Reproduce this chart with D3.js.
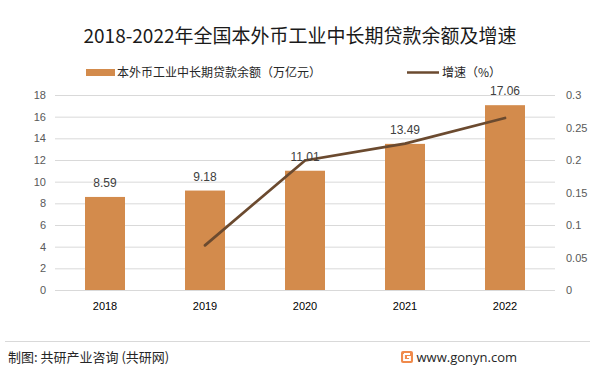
<!DOCTYPE html>
<html><head><meta charset="utf-8">
<script src="https://cdn.jsdelivr.net/npm/d3@7"></script>
<style>body{margin:0;background:#fff}svg{display:block;font-family:"Noto Sans CJK SC",sans-serif}</style>
</head><body>
<svg id="c" width="601" height="375"></svg>
<script>
const years = ["2018","2019","2020","2021","2022"];
const balance = [8.59, 9.18, 11.01, 13.49, 17.06];
const growth = [null, 0.0687, 0.1993, 0.2253, 0.2646];
const leftTicks = [0,2,4,6,8,10,12,14,16,18];
const rightTicks = [0,0.05,0.1,0.15,0.2,0.25,0.3];

const NUMF = "'Liberation Sans',Arial,sans-serif";
const svg = d3.select("#c");
const L = 55, R = 555, T = 95, B = 290;
const x = d3.scaleBand().domain(years).range([L, R]).paddingInner(0.6).paddingOuter(0.3);
const yL = d3.scaleLinear().domain([0,18]).range([B,T]);
const yR = d3.scaleLinear().domain([0,0.3]).range([B,T]);

svg.append("text").attr("x",300).attr("y",43).attr("text-anchor","middle")
  .attr("font-size",19).attr("fill","#1a1a1a").text("2018-2022年全国本外币工业中长期贷款余额及增速");

// grid
svg.append("g").selectAll("line").data(leftTicks).join("line")
  .attr("x1",L).attr("x2",R).attr("y1",d=>yL(d)+0.5).attr("y2",d=>yL(d)+0.5)
  .attr("stroke","#d9d9d9").attr("stroke-width",1);

function styleAxis(g, color){
  g.select(".domain").remove();
  g.selectAll("text").attr("font-size",11).attr("fill",color)
   .attr("font-family",NUMF).attr("font-weight","normal");
}
const ga = svg.append("g").attr("transform",`translate(${L},0)`)
  .call(d3.axisLeft(yL).tickValues(leftTicks).tickSize(0).tickPadding(9));
styleAxis(ga,"#595959");

const gr = svg.append("g").attr("transform",`translate(${R},0)`)
  .call(d3.axisRight(yR).tickValues(rightTicks).tickFormat(d=>String(+d.toFixed(2))).tickSize(0).tickPadding(11));
styleAxis(gr,"#595959");

const gx = svg.append("g").attr("transform",`translate(0,${B})`)
  .call(d3.axisBottom(x).tickSize(0).tickPadding(12));
styleAxis(gx,"#000");

// bars
svg.append("g").selectAll("rect").data(balance).join("rect")
  .attr("x",(d,i)=>x(years[i])).attr("width",x.bandwidth())
  .attr("y",d=>yL(d)).attr("height",d=>B-yL(d)).attr("fill","#d38b4c");

// line
const line = d3.line().defined(d=>d!=null)
  .x((d,i)=>x(years[i])+x.bandwidth()/2).y(d=>yR(d));
svg.append("path").datum(growth).attr("d",line).attr("fill","none")
  .attr("stroke","#6b4a2f").attr("stroke-width",2.75).attr("stroke-linecap","round");

// labels
svg.append("g").selectAll("text").data(balance).join("text")
  .attr("x",(d,i)=>x(years[i])+x.bandwidth()/2).attr("y",d=>yL(d)-10)
  .attr("text-anchor","middle").attr("font-size",12).attr("fill","#404040")
  .attr("font-family",NUMF)
  .text(d=>d.toFixed(2));

// legend
svg.append("rect").attr("x",86).attr("y",69).attr("width",29).attr("height",7).attr("fill","#d38b4c");
svg.append("text").attr("x",117).attr("y",77).attr("font-size",12).attr("fill","#262626").text("本外币工业中长期贷款余额（万亿元）");
svg.append("line").attr("x1",407).attr("x2",439).attr("y1",72.5).attr("y2",72.5).attr("stroke","#6b4a2f").attr("stroke-width",2.5);
svg.append("text").attr("x",442).attr("y",77).attr("font-size",12).attr("fill","#262626").text("增速（%）");

// footer
svg.append("line").attr("x1",5).attr("x2",590).attr("y1",341.5).attr("y2",341.5).attr("stroke","#d9d9d9");
svg.append("text").attr("x",8).attr("y",362).attr("font-size",13).attr("fill","#262626").text("制图: 共研产业咨询 (共研网)");
const lg = svg.append("g").attr("transform","translate(401,351)");
lg.append("rect").attr("width",12).attr("height",12).attr("rx",2).attr("fill","#f08a4b");
lg.append("path").attr("d","M3,3 H9 M3,3 V9 H9 V6 H6").attr("stroke","#fff").attr("stroke-width",1.8).attr("fill","none");
svg.append("text").attr("x",517).attr("y",362).attr("text-anchor","end").attr("font-size",13).attr("fill","#262626")
  .attr("font-family","'Open Sans','DejaVu Sans',sans-serif").text("www.gonyn.com");
</script>
</body></html>
